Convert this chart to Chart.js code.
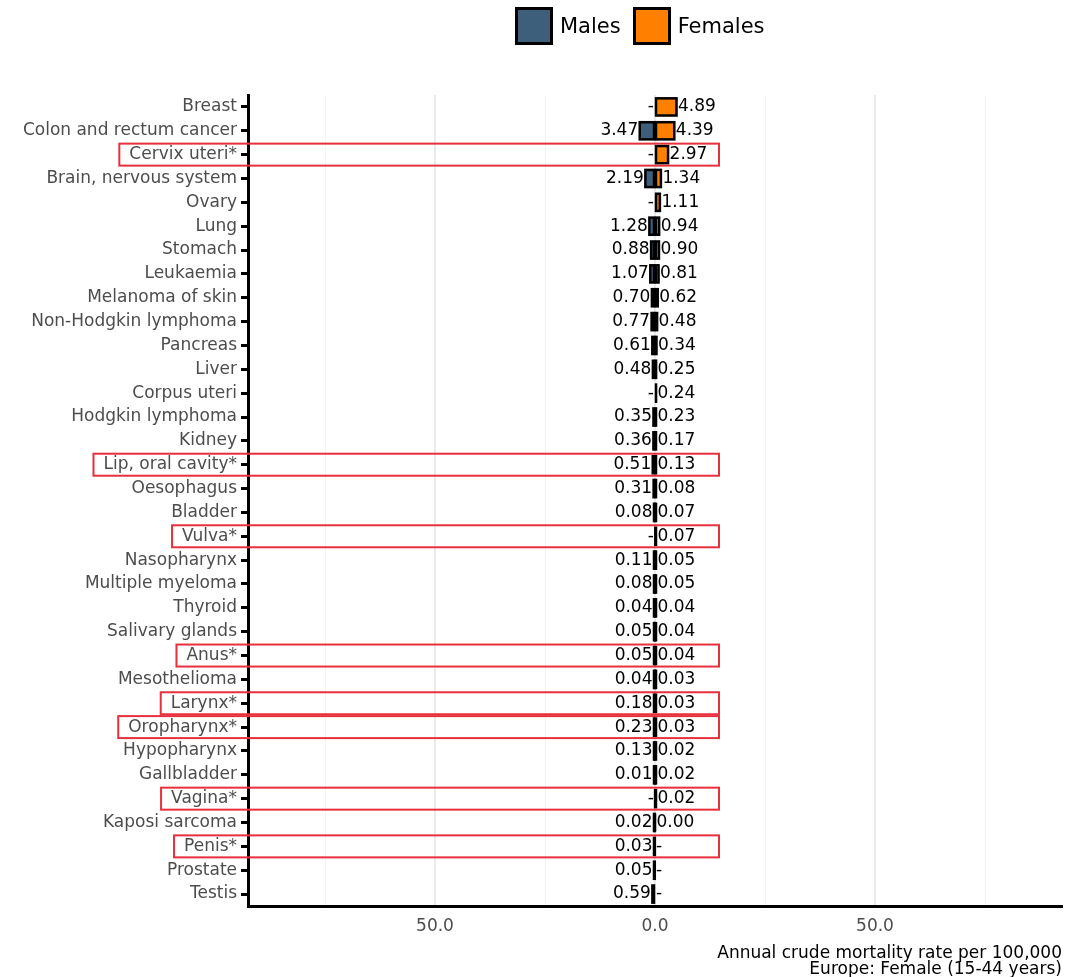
<!DOCTYPE html>
<html lang="en">
<head>
  <meta charset="UTF-8" />
  <title>Annual crude mortality rate - Europe, Female (15-44 years)</title>
  <script src="https://cdn.jsdelivr.net/npm/chart.js@4.4.0/dist/chart.umd.min.js"></script>
  <style>
    body { margin: 0; background: #fff; }
    #wrap { position: relative; width: 1082px; height: 977px; }
    #leyenda {
      position: absolute; top: 7px; left: 515px;
      display: flex; align-items: center;
      font-family: "DejaVu Sans", sans-serif; font-size: 21px; color: #000;
    }
    #leyenda .caja { width: 32px; height: 32px; border: 3px solid #000; margin-right: 7px; }
    #leyenda .item { display: flex; align-items: center; margin-right: 12px; }
  </style>
</head>
<body>
<div id="wrap">
  <div id="leyenda">
    <div class="item"><div class="caja" style="background:#3e5f7b"></div><span>Males</span></div>
    <div class="item"><div class="caja" style="background:#ff8000"></div><span>Females</span></div>
  </div>
  <canvas id="grafico"></canvas>
</div>

<script>
  // categorias (de arriba a abajo)
  const categorias = [
    'Breast', 'Colon and rectum cancer', 'Cervix uteri*', 'Brain, nervous system',
    'Ovary', 'Lung', 'Stomach', 'Leukaemia', 'Melanoma of skin', 'Non-Hodgkin lymphoma',
    'Pancreas', 'Liver', 'Corpus uteri', 'Hodgkin lymphoma', 'Kidney', 'Lip, oral cavity*',
    'Oesophagus', 'Bladder', 'Vulva*', 'Nasopharynx', 'Multiple myeloma', 'Thyroid',
    'Salivary glands', 'Anus*', 'Mesothelioma', 'Larynx*', 'Oropharynx*', 'Hypopharynx',
    'Gallbladder', 'Vagina*', 'Kaposi sarcoma', 'Penis*', 'Prostate', 'Testis'
  ];
  // null = sin dato ("-")
  const hombres = [
    null, 3.47, null, 2.19, null, 1.28, 0.88, 1.07, 0.70, 0.77,
    0.61, 0.48, null, 0.35, 0.36, 0.51, 0.31, 0.08, null, 0.11,
    0.08, 0.04, 0.05, 0.05, 0.04, 0.18, 0.23, 0.13, 0.01, null,
    0.02, 0.03, 0.05, 0.59
  ];
  const mujeres = [
    4.89, 4.39, 2.97, 1.34, 1.11, 0.94, 0.90, 0.81, 0.62, 0.48,
    0.34, 0.25, 0.24, 0.23, 0.17, 0.13, 0.08, 0.07, 0.07, 0.05,
    0.05, 0.04, 0.04, 0.04, 0.03, 0.03, 0.03, 0.02, 0.02, 0.02,
    0.00, null, null, null
  ];
  const ticksX = [-75, -50, -25, 0, 25, 50, 75];
  const limiteX = 92.5;

  const fuente = '"DejaVu Sans", sans-serif';
  const tamTexto = 17;

  // bordes de barra centrados en el contorno (como ggplot) + etiquetas de valores
  const etiquetasValores = {
    id: 'etiquetasValores',
    afterDatasetsDraw(chart) {
      const ctx = chart.ctx;
      const x0 = chart.scales.x.getPixelForValue(0);
      const series = [hombres, mujeres];
      ctx.save();
      ctx.strokeStyle = '#000';
      ctx.lineWidth = 2.5;
      series.forEach((serie, d) => {
        chart.getDatasetMeta(d).data.forEach((el, i) => {
          if (serie[i] === null) return;
          const { x, y, base, height } = el.getProps(['x', 'y', 'base', 'height'], true);
          ctx.strokeRect(Math.min(x, base), y - height / 2, Math.abs(x - base), height);
        });
      });

      ctx.font = tamTexto + 'px ' + fuente;
      ctx.fillStyle = '#000';
      ctx.textBaseline = 'middle';
      categorias.forEach((c, i) => {
        const y = chart.scales.y.getPixelForValue(i);
        const mh = chart.getDatasetMeta(0).data[i];
        const mm = chart.getDatasetMeta(1).data[i];
        ctx.textAlign = 'right';
        if (hombres[i] === null) {
          ctx.fillText('-', x0 - 1, y);
        } else {
          ctx.fillText(hombres[i].toFixed(2), Math.min(mh.x, mh.base) - 1.5, y);
        }
        ctx.textAlign = 'left';
        if (mujeres[i] === null) {
          ctx.fillText('-', x0 + 1, y);
        } else {
          ctx.fillText(mujeres[i].toFixed(2), Math.max(mm.x, mm.base) + 1.5, y);
        }
      });
      ctx.restore();
    }
  };

  // recuadros rojos sobre las categorias marcadas con *
  const recuadros = {
    id: 'recuadros',
    afterDraw(chart) {
      const ctx = chart.ctx;
      const ys = chart.scales.y;
      const x0 = chart.scales.x.getPixelForValue(0);
      const finTexto = chart.chartArea.left - 11;
      ctx.save();
      ctx.font = tamTexto + 'px ' + fuente;
      ctx.strokeStyle = '#e8303c';
      ctx.lineWidth = 2;
      categorias.forEach((c, i) => {
        if (!c.endsWith('*')) return;
        const y = ys.getPixelForValue(i);
        const ancho = ctx.measureText(c).width;
        const izq = finTexto - ancho - 10;
        ctx.strokeRect(izq, y - 11, x0 + 64 - izq, 22);
      });
      ctx.restore();
    }
  };

  new Chart(document.getElementById('grafico'), {
    type: 'bar',
    data: {
      labels: categorias,
      datasets: [
        {
          label: 'Males',
          data: hombres.map(v => v === null ? null : -v),
          backgroundColor: '#3e5f7b',
          borderWidth: 0,
          barPercentage: 0.72,
          categoryPercentage: 1
        },
        {
          label: 'Females',
          data: mujeres,
          backgroundColor: '#ff8000',
          borderWidth: 0,
          barPercentage: 0.72,
          categoryPercentage: 1
        }
      ]
    },
    options: {
      indexAxis: 'y',
      responsive: true,
      maintainAspectRatio: false,
      animation: false,
      layout: { padding: { top: 95, right: 20, left: 0, bottom: 0 } },
      plugins: {
        legend: { display: false },
        tooltip: { enabled: false }
      },
      scales: {
        x: {
          stacked: true,
          min: -limiteX,
          max: limiteX,
          afterBuildTicks: s => { s.ticks = ticksX.map(v => ({ value: v })); },
          afterFit: s => { s.height = 71; },
          ticks: {
            padding: 10,
            color: '#4d4d4d',
            font: { family: fuente, size: tamTexto },
            maxRotation: 0,
            autoSkip: false,
            callback: v => (v % 50 === 0 ? Math.abs(v).toFixed(1) : '')
          },
          grid: {
            drawTicks: false,
            color: c => (c.tick && c.tick.value % 50 === 0 ? '#ebebeb' : '#f4f4f4'),
            lineWidth: c => (c.tick && c.tick.value % 50 === 0 ? 2 : 1)
          },
          border: { display: true, color: '#000', width: 3 },
          title: {
            display: true,
            text: ['Annual crude mortality rate per 100,000', 'Europe: Female (15-44 years)'],
            align: 'end',
            color: '#000',
            font: { family: fuente, size: tamTexto, lineHeight: 0.9 },
            padding: { top: 0, bottom: 0 }
          }
        },
        y: {
          stacked: true,
          afterFit: s => { s.width = 248; },
          ticks: {
            padding: 4,
            color: '#4d4d4d',
            font: { family: fuente, size: tamTexto },
            autoSkip: false
          },
          grid: {
            offset: false,
            drawOnChartArea: false,
            drawTicks: true,
            tickLength: 7,
            tickColor: '#000',
            tickWidth: 3
          },
          border: { display: true, color: '#000', width: 3 }
        }
      }
    },
    plugins: [etiquetasValores, recuadros]
  });
</script>
</body>
</html>
